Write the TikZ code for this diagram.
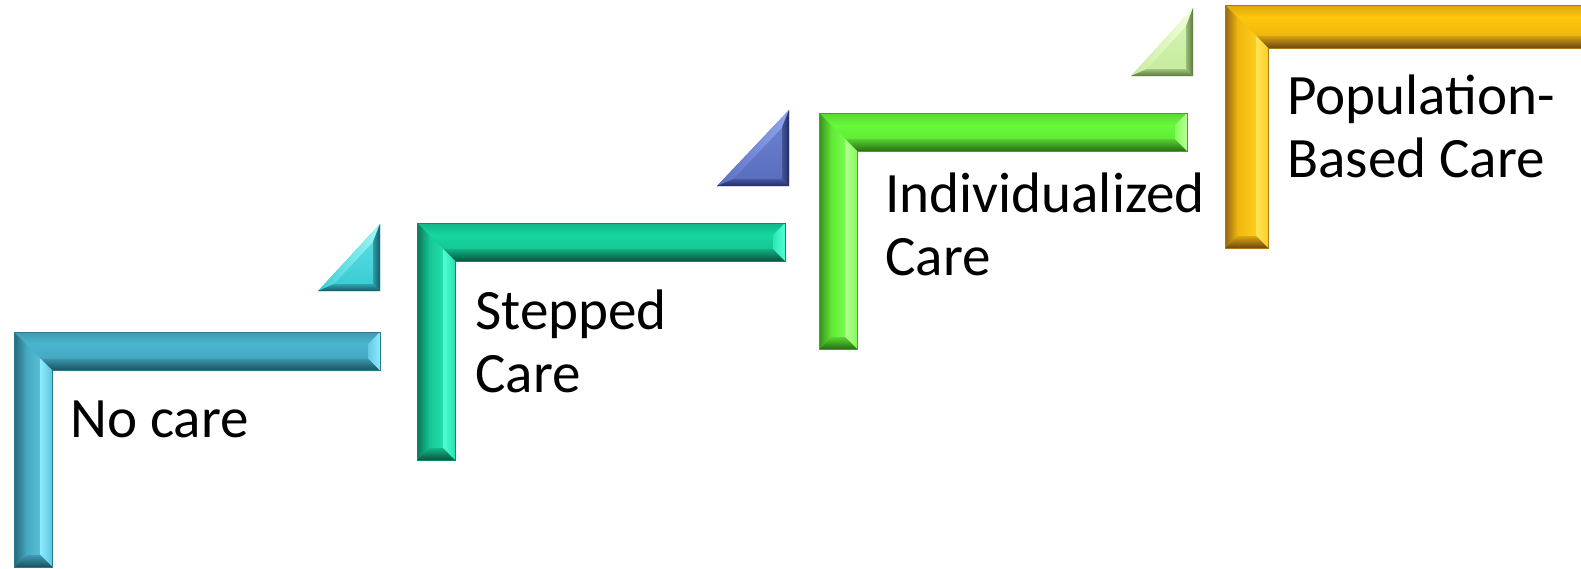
\documentclass[tikz,border=0pt]{standalone}
\usepackage{fontspec}
\setmainfont{Carlito}
\usetikzlibrary{calc}

% colour sets: <name>main, <name>light, <name>dark
\definecolor{bluemain}{RGB}{74,180,206}
\definecolor{bluelight}{RGB}{140,235,255}
\definecolor{bluedark}{RGB}{25,80,95}
\definecolor{tealmain}{RGB}{22,214,160}
\definecolor{teallight}{RGB}{80,255,212}
\definecolor{tealdark}{RGB}{8,85,62}
\definecolor{greenmain}{RGB}{104,250,58}
\definecolor{greenlight}{RGB}{185,255,150}
\definecolor{greendark}{RGB}{40,110,20}
\definecolor{goldmain}{RGB}{255,198,12}
\definecolor{goldlight}{RGB}{255,228,90}
\definecolor{golddark}{RGB}{110,70,20}
\definecolor{cyanmain}{RGB}{58,205,212}
\definecolor{cyanlight}{RGB}{160,248,248}
\definecolor{cyandark}{RGB}{20,90,100}
\definecolor{violetmain}{RGB}{90,110,192}
\definecolor{violetlight}{RGB}{145,165,238}
\definecolor{violetdark}{RGB}{35,45,100}
\definecolor{limemain}{RGB}{198,236,158}
\definecolor{limelight}{RGB}{242,255,222}
\definecolor{limedark}{RGB}{90,120,60}

% bevelled half frame: x0 y0 x1 y1 thickness colourset
\newcommand\halfframe[6]{%
  \pgfmathsetmacro\hfxa{#1}\pgfmathsetmacro\hfya{#2}%
  \pgfmathsetmacro\hfxe{#3}\pgfmathsetmacro\hfye{#4}%
  \pgfmathsetmacro\hfb{12}%
  \pgfmathsetmacro\hfxb{#1+\hfb}\pgfmathsetmacro\hfyb{#2+\hfb}%
  \pgfmathsetmacro\hfxt{#1+#5}\pgfmathsetmacro\hfyt{#2+#5}%
  \pgfmathsetmacro\hfxtb{#1+#5-\hfb}\pgfmathsetmacro\hfytb{#2+#5-\hfb}%
  \pgfmathsetmacro\hfxeb{#3-\hfb}\pgfmathsetmacro\hfyeb{#4-\hfb}%
  % body
  \fill[#6main] (\hfxa,\hfya) -- (\hfxe,\hfya) -- (\hfxe,\hfyt) -- (\hfxt,\hfyt)
     -- (\hfxt,\hfye) -- (\hfxa,\hfye) -- cycle;
  \shade[top color=#6main, bottom color=#6main!88!#6dark]
     (\hfxb,\hfyb) -- (\hfxeb,\hfyb) -- (\hfxeb,\hfytb) -- (\hfxtb,\hfytb) -- cycle;
  \shade[left color=#6main!88!#6dark, right color=#6main!80!#6light]
     (\hfxb,\hfyb) -- (\hfxtb,\hfytb) -- (\hfxtb,\hfyeb) -- (\hfxb,\hfyeb) -- cycle;
  % outer top facet
  \shade[top color=#6main!75!#6dark, bottom color=#6main]
     (\hfxa,\hfya) -- (\hfxe,\hfya) -- (\hfxeb,\hfyb) -- (\hfxb,\hfyb) -- cycle;
  % inner facet under the horizontal bar
  \shade[top color=#6main!70!#6dark, bottom color=#6dark]
     (\hfxtb,\hfytb) -- (\hfxeb,\hfytb) -- (\hfxe,\hfyt) -- (\hfxt,\hfyt) -- cycle;
  % end facet of the horizontal bar
  \shade[left color=#6main!60!#6light, right color=#6light]
     (\hfxeb,\hfyb) -- (\hfxe,\hfya) -- (\hfxe,\hfyt) -- (\hfxeb,\hfytb) -- cycle;
  % outer left facet
  \shade[left color=#6dark!75!#6main, right color=#6main!85!#6dark]
     (\hfxa,\hfya) -- (\hfxb,\hfyb) -- (\hfxb,\hfyeb) -- (\hfxa,\hfye) -- cycle;
  % inner facet right of the vertical bar
  \shade[left color=#6light, right color=#6main!70!#6light]
     (\hfxtb,\hfytb) -- (\hfxt,\hfyt) -- (\hfxt,\hfye) -- (\hfxtb,\hfyeb) -- cycle;
  % end facet of the vertical bar
  \shade[top color=#6main!75!#6dark, bottom color=#6dark]
     (\hfxb,\hfyeb) -- (\hfxtb,\hfyeb) -- (\hfxt,\hfye) -- (\hfxa,\hfye) -- cycle;
  \draw[#6dark!60!#6main, line width=0.4pt] (\hfxa,\hfya) -- (\hfxe,\hfya) -- (\hfxe,\hfyt) -- (\hfxt,\hfyt)
     -- (\hfxt,\hfye) -- (\hfxa,\hfye) -- cycle;
}

% bevelled right triangle: x left, x right, y top, y bottom, colourset
\newcommand\beveltri[5]{%
  \pgfmathsetmacro\btw{#2-#1}\pgfmathsetmacro\bth{#4-#3}%
  \pgfmathsetmacro\btc{sqrt(\btw*\btw+\bth*\bth)}%
  \pgfmathsetmacro\btr{(\btw+\bth-\btc)/2}%
  \pgfmathsetmacro\btix{#2-\btr}\pgfmathsetmacro\btiy{#4-\btr}%
  \pgfmathsetmacro\btk{(\btr-7)/\btr}%
  \pgfmathsetmacro\btax{\btix+\btk*(#1-\btix)}%
  \pgfmathsetmacro\btbx{\btix+\btk*(#2-\btix)}%
  \pgfmathsetmacro\btby{\btiy+\btk*(#4-\btiy)}%
  \pgfmathsetmacro\btcy{\btiy+\btk*(#3-\btiy)}%
  \fill[#5main] (#1,#4) -- (#2,#4) -- (#2,#3) -- cycle;
  \shade[top color=#5main!70!#5light, bottom color=#5main]
     (\btax,\btby) -- (\btbx,\btby) -- (\btbx,\btcy) -- cycle;
  \shade[left color=#5main, right color=#5light]
     (#1,#4) -- (#2,#3) -- (\btbx,\btcy) -- (\btax,\btby) -- cycle;
  \shade[left color=#5main!60!#5dark, right color=#5dark]
     (#2,#3) -- (#2,#4) -- (\btbx,\btby) -- (\btbx,\btcy) -- cycle;
  \shade[top color=#5main!65!#5dark, bottom color=#5dark]
     (#1,#4) -- (#2,#4) -- (\btbx,\btby) -- (\btax,\btby) -- cycle;
}

\begin{document}
\begin{tikzpicture}[x=0.02cm, y=-0.02cm,
  steplabel/.style={anchor=base west, inner sep=0pt, align=left,
    font=\fontsize{32.5}{35.3}\selectfont}]
  \useasboundingbox (0,0) rectangle (1581,568);
  \begin{scope}
    \clip (0,0) rectangle (1581,568);
    % half frames, bottom left to top right
    \halfframe{14}{332}{380}{567}{38.5}{blue}
    \halfframe{417}{223}{785}{460}{38}{teal}
    \halfframe{819}{113}{1187}{349}{38}{green}
    \halfframe{1225}{5}{1620}{248}{43}{gold}
    % small triangles between the steps
    \beveltri{318}{380}{224}{291}{cyan}
    \beveltri{717}{789}{110}{186}{violet}
    \beveltri{1131}{1193}{8}{76}{lime}
  \end{scope}
  % step labels (anchored at the baseline of the last line)
  \node[steplabel] (nocare) at (70,437) {No care};
  \node[steplabel] (stepped) at (475,392) {Stepped\\Care};
  \node[steplabel] (indiv) at (885,275) {Individualized\\Care};
  \node[steplabel] (popul) at (1287,177) {Population-\\Based Care};
\end{tikzpicture}
\end{document}
